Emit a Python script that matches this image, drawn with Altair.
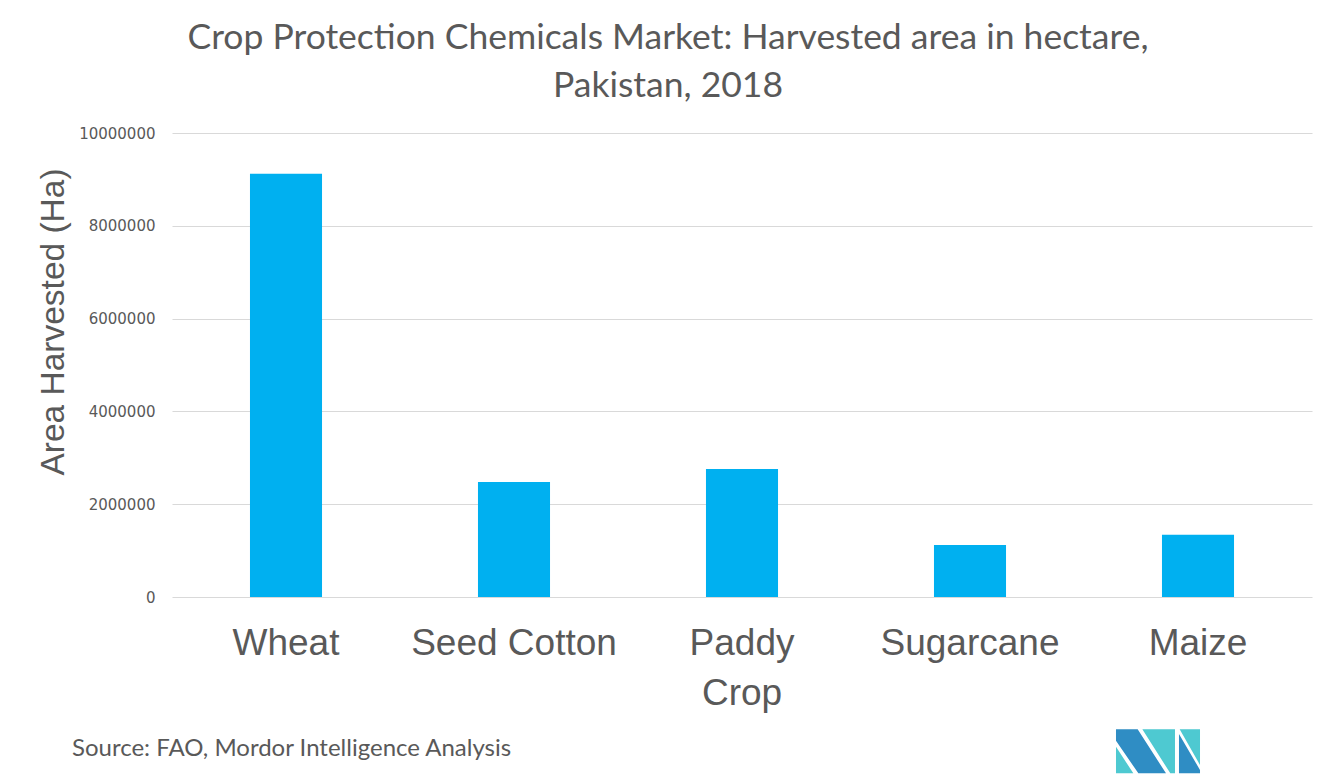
import altair as alt
import pandas as pd

crops = ["Wheat", "Seed Cotton", "Paddy Crop", "Sugarcane", "Maize"]
area_ha = [9120000, 2480000, 2760000, 1120000, 1340000]
y_ticks = [0, 2000000, 4000000, 6000000, 8000000, 10000000]

title_lines = ["Crop Protection Chemicals Market: Harvested area in hectare,", "Pakistan, 2018"]
y_title = "Area Harvested (Ha)"
source_text = "Source: FAO, Mordor Intelligence Analysis"

GRAY = "#595959"
W, H = 1140, 464

df = pd.DataFrame({"crop": crops, "area": area_ha})
one = pd.DataFrame({"a": [0]})

bars = alt.Chart(df).mark_bar(color="#00b0f0").encode(
    x=alt.X("crop:N", sort=crops,
            scale=alt.Scale(paddingInner=0.684, paddingOuter=0.342),
            axis=alt.Axis(title=None, labelAngle=0, ticks=False, domain=False,
                          labelFont="Liberation Sans", labelFontSize=37, labelLimit=1000,
                          labelColor=GRAY, labelPadding=28, labelLineHeight=50,
                          labelExpr="datum.label == 'Paddy Crop' ? ['Paddy', 'Crop'] : datum.label")),
    y=alt.Y("area:Q", scale=alt.Scale(domain=[0, 10000000]),
            axis=alt.Axis(title=None, values=y_ticks, format="d", ticks=False, domain=False,
                          labelFont="DejaVu Sans", labelFontSize=15, labelColor=GRAY,
                          labelPadding=17, gridColor="#d9d9d9", gridWidth=1)),
)

title = alt.Chart(one).mark_text(
    text=title_lines, font="Lato", fontSize=35.5, color=GRAY, align="center",
    baseline="alphabetic", lineHeight=48,
).encode(x=alt.value(496), y=alt.value(-84))

ytitle = alt.Chart(one).mark_text(
    text=y_title, font="Liberation Sans", fontSize=33.5, color=GRAY, align="center",
    baseline="alphabetic", angle=270,
).encode(x=alt.value(-108), y=alt.value(189))

source = alt.Chart(one).mark_text(
    text=source_text, font="Lato", fontSize=24, color=GRAY, align="left",
    baseline="alphabetic",
).encode(x=alt.value(-100), y=alt.value(623))

# logo (decoration) drawn as custom symbol paths
def logo_path(pts):
    out = []
    for i, (zx, zy) in enumerate(pts):
        u = (1105 + zx / 3 - 1158) / 43
        v = (720 + zy / 3 - 750) / 43
        out.append(("M" if i == 0 else "L") + f"{u:.3f},{v:.3f}")
    return "".join(out) + "Z"

dark_path = logo_path([(33, 28), (98, 28), (183, 160), (100, 160), (33, 62)]) + \
    logo_path([(222, 42), (285, 150), (285, 160), (222, 160)])
teal_path = logo_path([(33, 80), (33, 160), (85, 160)]) + \
    logo_path([(112, 28), (210, 28), (210, 160), (196, 160)]) + \
    logo_path([(224, 28), (285, 28), (285, 135)])

logo_dark = alt.Chart(one).mark_point(
    shape=dark_path, size=7396, filled=True, opacity=1, color="#2f8dc4", strokeWidth=0,
).encode(x=alt.value(986), y=alt.value(617))
logo_teal = alt.Chart(one).mark_point(
    shape=teal_path, size=7396, filled=True, opacity=1, color="#4ec9d1", strokeWidth=0,
).encode(x=alt.value(986), y=alt.value(617))

chart = alt.layer(bars, title, ytitle, source, logo_dark, logo_teal).properties(
    width=W, height=H,
    autosize=alt.AutoSizeParams(type="none"),
    padding={"left": 164, "top": 125, "right": 16, "bottom": 178},
).configure_view(stroke=None)

chart.save("out.html", embed_options={"renderer": "svg", "actions": False})
